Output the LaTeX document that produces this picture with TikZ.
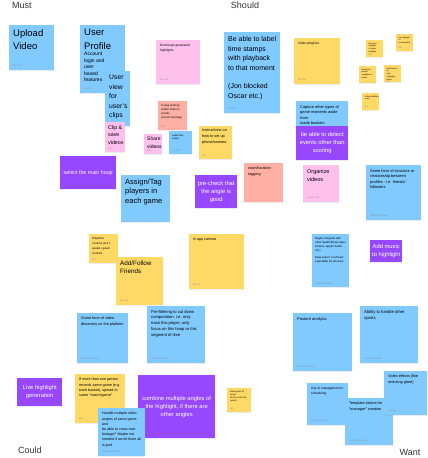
\documentclass[tikz,border=0pt]{standalone}
\usepackage{fontspec}
\setmainfont{Liberation Sans}
\usetikzlibrary{shadows}

\definecolor{noteblue}{HTML}{80CAFF}
\definecolor{notepink}{HTML}{FFC0EE}
\definecolor{noteyellow}{HTML}{FFD966}
\definecolor{notesalmon}{HTML}{FFAFA3}
\definecolor{notepurple}{HTML}{9747FF}
\definecolor{boardtext}{HTML}{333333}

\newcommand{\fsz}[2]{\fontsize{#1}{#2}\selectfont}
% sticky note body: width, height, text, author
\newcommand{\notetext}[4]{\parbox[c][\dimexpr#2pt-8pt\relax][t]{\dimexpr#1pt-8pt\relax}{\raggedright#3\par\vfill{\fsz{2.2}{2.6}\color{black!45}#4\par}}}

\begin{document}
\begin{tikzpicture}[
      x=1pt, y=-1pt,
      note/.style={anchor=north west, inner sep=4pt,
                   drop shadow={opacity=0.15, shadow xshift=0pt, shadow yshift=-0.7pt}},
      blue note/.style={note, fill=noteblue},
      pink note/.style={note, fill=notepink},
      yellow note/.style={note, fill=noteyellow},
      salmon note/.style={note, fill=notesalmon},
      purple note/.style={note, inner sep=1pt, fill=notepurple, text=white, align=center},
      notesize/.style 2 args={minimum width=#1pt, minimum height=#2pt},
      board label/.style={font=\fsz{9}{11}, text=boardtext}
  ]
      \fill[white] (0,0) rectangle (428,458);
      \useasboundingbox (0,0) rectangle (428,458);

      % Quadrant labels
      \node[board label] (must)   at (22,5)    {Must};
      \node[board label] (should) at (245,5)   {Should};
      \node[board label] (could)  at (30,450)  {Could};
      \node[board label] (want)   at (410,452) {Want};

      % Must
      \node[blue note] (upload) at (9,25) {\notetext{45}{45}{\fsz{9.5}{13.5}Upload\\Video}{Eric Lee}};
      \node[blue note] (profile) at (80,25) {\notetext{45}{68}{{\fsz{9.5}{13.5}User\\Profile\par}\fsz{5}{6.5}Account\\login and\\user\\based\\features}{Eric Lee}};
      \node[blue note, inner sep=4pt] (userview) at (105,71) {\parbox[c][47pt][t]{17pt}{\raggedright\fsz{6.8}{9.4}User\\view\\for\\user's\\clips}};
      \node[pink note, inner sep=3pt] (clipsave) at (105,122) {\parbox[c][24pt][t]{14pt}{\raggedright\fsz{5.3}{7.6}Clip \&\\save\\videos\par\vfill{\fsz{1.8}{2}\color{black!45}Eric\par}}};
      \node[purple note, notesize={56}{33}, font=\fsz{5.3}{7}] (mainhoop) at (60,156) {select the main hoop};
      \node[blue note] (assign) at (121,175) {\notetext{49}{47}{\fsz{7.5}{9.2}Assign/Tag\\players in\\each game}{}};

      % Should
      \node[pink note] (download) at (156,40) {\notetext{44}{44}{\fsz{3.2}{4.5}Download generated\\highlights}{Eric Shi}};
      \node[blue note] (timestamps) at (224,32) {\notetext{56}{81}{\fsz{7}{9.8}Be able to label\\time stamps\\with playback\\to that moment\\[8pt](Jon blocked\\Oscar etc.)}{Eric Shi}};
      \node[salmon note, inner sep=3pt] (sharing) at (158,101) {\notetext{31}{31}{\fsz{2.8}{4}In-App sharing\\and/or share to socials\\via text message}{Eric}};
      \node[pink note, inner sep=3pt] (sharevid) at (144,134) {\notetext{20}{22}{\fsz{5}{7.5}Share\\videos}{Eric}};
      \node[blue note, inner sep=3pt] (swing) at (169,131) {\notetext{25}{25}{\fsz{2.6}{3.5}Label this swing}{Jon Doe}};
      \node[yellow note, inner sep=3pt] (setup) at (199,126) {\notetext{35}{35}{\fsz{3.8}{5.6}Instructions on\\how to set up\\phone/camera}{Eric}};
      \node[purple note, notesize={42}{33}, font=\fsz{5.8}{8.2}] (precheck) at (195,175) {pre-check that\\the angle is\\good};
      \node[salmon note] (court) at (244,163) {\notetext{39}{39}{\fsz{3.8}{5.8}court/location\\tagging}{}};

      \node[yellow note] (playlists) at (294,38) {\notetext{46}{46}{\fsz{3.3}{4.5}Video playlists}{Eric Shi}};
      \node[yellow note, inner sep=2.5pt] (recordhl) at (366,40) {\notetext{20}{20}{\fsz{2}{2.8}Record a highlight\\to share highlight}{Eric}};
      \node[yellow note, inner sep=2.5pt] (privacy) at (396,34) {\notetext{20}{20}{\fsz{2}{2.8}Set highlight to\\private/public}{Eric}};
      \node[yellow note, inner sep=2.5pt] (search) at (359,66) {\notetext{20}{20}{\fsz{2}{2.8}Search for\\friends'\\highlights or\\teams}{}};
      \node[yellow note, inner sep=2.5pt] (notify) at (384,65) {\notetext{20}{20}{\fsz{2}{2.8}Notifications for\\new highlights\\made}{Eric}};
      \node[yellow note, inner sep=2.5pt] (unfollow) at (362,93) {\notetext{20}{20}{\fsz{2}{2.8}Follow/Unfollow\\users}{Eric}};

      \node[blue note] (capture) at (296,101) {\notetext{52}{49}{\fsz{3.9}{5.5}Capture other types of\\game moments aside from\\made baskets}{}};
      \node[purple note, notesize={52}{34}, font=\fsz{5.8}{8}] (detect) at (296,126) {be able to detect\\events other than\\scoring};
      \node[pink note] (organize) at (303,165) {\notetext{36}{37}{\fsz{5.5}{8}Organize\\videos}{Andrew Yeh}};
      \node[blue note] (structure) at (366,165) {\notetext{55}{55}{\fsz{3.9}{5.5}Some form of structure or\\relationship between\\profiles - i.e. friends/\\followers}{Jason McCutchan}};
      \node[blue note, inner sep=3pt] (integrate) at (312,234) {\notetext{39}{55}{\fsz{2.8}{4}Maybe integrate with\\other health/fitness apps\\(Strava, Apple Health, etc.)\\[3pt]Data export, or at least\\exportable for all users}{Jason McCutchan}};
      \node[purple note, notesize={32}{22}, font=\fsz{5.8}{8}] (music) at (370,240) {Add music\\to highlight};

      \node[yellow note, inner sep=3pt] (playback) at (89,234) {\notetext{31}{31}{\fsz{2.9}{4.9}Playback\\controls (1/4 x\\speed, speed\\controls}{Eric}};
      \node[yellow note] (follow) at (116,257) {\notetext{47}{48}{\fsz{6.3}{7.4}Add/Follow\\Friends}{Eric Shi}};
      \node[yellow note] (camera) at (189,234) {\notetext{55}{55}{\fsz{3.6}{5}In app camera}{Eric Shi}};

      % Could
      \node[blue note] (discovery) at (77,313) {\notetext{51}{50}{\fsz{3.8}{5.5}Some form of video\\discovery on the platform}{Jason McCutchan}};
      \node[blue note] (prefilter) at (147,306) {\notetext{58}{57}{\fsz{4.1}{5.8}Pre-filtering to cut down\\computation. i.e. only\\track this player, only\\focus on this hoop or this\\segment of time}{Jason McCutchan}};
      \node[purple note, notesize={45}{28}, font=\fsz{5.8}{8.5}] (livegen) at (17,378) {Live highlight\\generation};
      \node[yellow note] (samegame) at (75,374) {\notetext{50}{49}{\fsz{3.7}{5.3}If more than one person\\records same game (e.g.\\each basket), upload to\\same ``match/game''}{Eric}};
      \node[purple note, notesize={77}{63}, font=\fsz{5.8}{8.2}] (combine) at (138,375) {combine multiple angles of\\the highlight, if there are\\other angles};
      \node[blue note] (handle) at (98,408) {\notetext{47}{48}{\fsz{3.6}{5.2}Handle multiple video\\angles of same game and\\be able to cross over\\footage? Maybe not\\needed if we let them all\\in pod}{Jason McCutchan}};
      \node[yellow note, inner sep=3pt] (goals) at (227,388) {\notetext{26}{26}{\fsz{2.2}{3}Make goals of range\\of shot and track\\results}{Eric}};

      % Want
      \node[blue note] (posture) at (293,313) {\notetext{59}{58}{\fsz{4}{6}Posture analysis}{Jason McCutchan}};
      \node[blue note] (sports) at (360,306) {\notetext{58}{57}{\fsz{4.2}{6}Ability to handle other\\sports}{Jason McCutchan}};
      \node[blue note] (schedule) at (307,383) {\notetext{41}{42}{\fsz{3.2}{4.6}Use in management or\\scheduling}{Jason McCutchan}};
      \node[blue note] (template) at (345,398) {\notetext{48}{47}{\fsz{3.8}{5.4}Template videos for\\``manager'' creation}{Jason McCutchan}};
      \node[blue note] (effects) at (384,371) {\notetext{43}{44}{\fsz{3.8}{5.4}Video effects (like\\reducing glare)}{Jon Doe}};
  \end{tikzpicture}
\end{document}
